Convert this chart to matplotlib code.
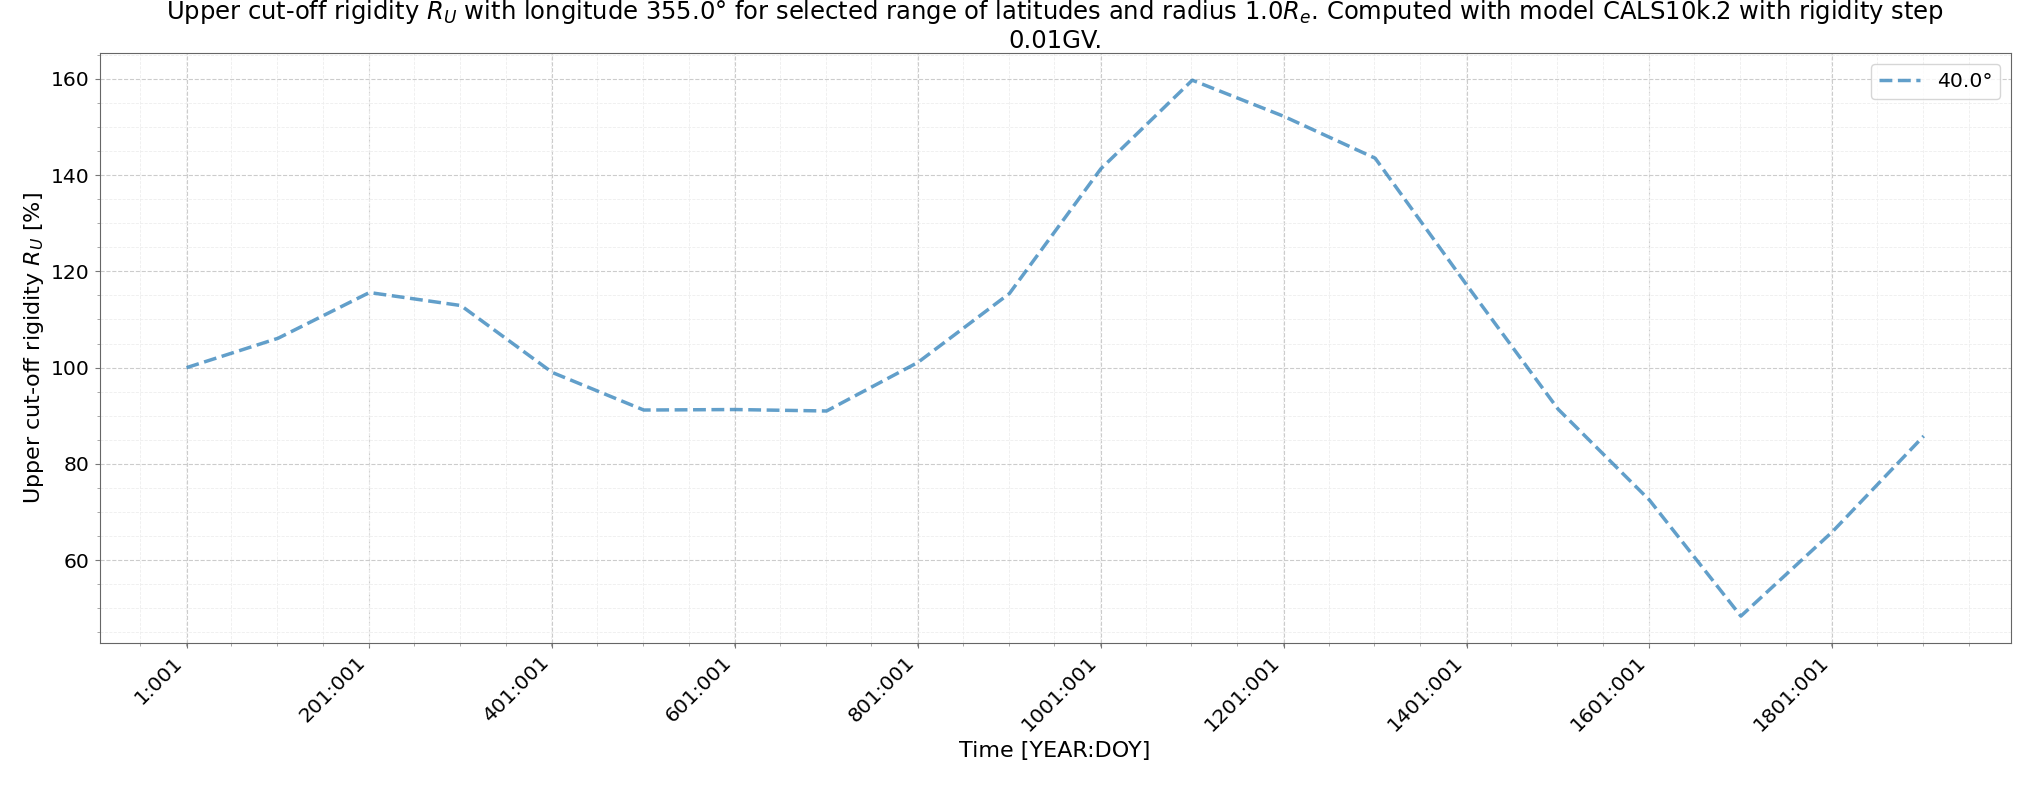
import numpy as np
import matplotlib
matplotlib.use("Agg")
import matplotlib.pyplot as plt
from matplotlib.ticker import MultipleLocator

# data
years = [1, 101, 201, 301, 401, 501, 601, 701, 801, 901,
         1001, 1101, 1201, 1301, 1401, 1501, 1601, 1701, 1801, 1901]
rigidity = [100.0, 106.1, 115.6, 112.9, 99.0, 91.2, 91.3, 91.0, 101.1, 115.4,
            141.3, 159.7, 152.2, 143.5, 117.2, 91.4, 72.5, 48.4, 65.9, 85.8]
latitude_label = "40.0°"
tick_years = list(range(1, 1802, 200))
tick_labels = ["%d:001" % y for y in tick_years]

fig, ax = plt.subplots(figsize=(20.35, 7.85), dpi=100)
fig.subplots_adjust(left=0.049, right=0.988, top=0.932, bottom=0.181)

ax.plot(years, rigidity, linestyle="--", linewidth=2.5, color="tab:blue",
        alpha=0.7, label=latitude_label)

ax.set_xticks(tick_years)
ax.set_xticklabels(tick_labels, rotation=45, ha="right")
ax.xaxis.set_minor_locator(MultipleLocator(50))
ax.yaxis.set_minor_locator(MultipleLocator(5))
ax.tick_params(axis="both", which="major", labelsize=14.7, color="#777777")
ax.tick_params(axis="both", which="minor", color="#999999")

ax.grid(which="major", linestyle="--", linewidth=0.8, color="#cccccc")
ax.grid(which="minor", linestyle="--", linewidth=0.6, color="#eeeeee")
for s in ax.spines.values():
    s.set_color("#666666")

ax.set_xlabel("Time [YEAR:DOY]", fontsize=16)
ax.set_ylabel("Upper cut-off rigidity $R_U$ [%]", fontsize=16)
ax.set_title("Upper cut-off rigidity $R_U$ with longitude 355.0° for selected range of latitudes "
             "and radius 1.0$R_e$. Computed with model CALS10k.2 with rigidity step\n0.01GV.",
             fontsize=17.5, pad=3)
ax.legend(loc="upper right", fontsize=14.7)

fig.savefig("out.png", dpi=100)
